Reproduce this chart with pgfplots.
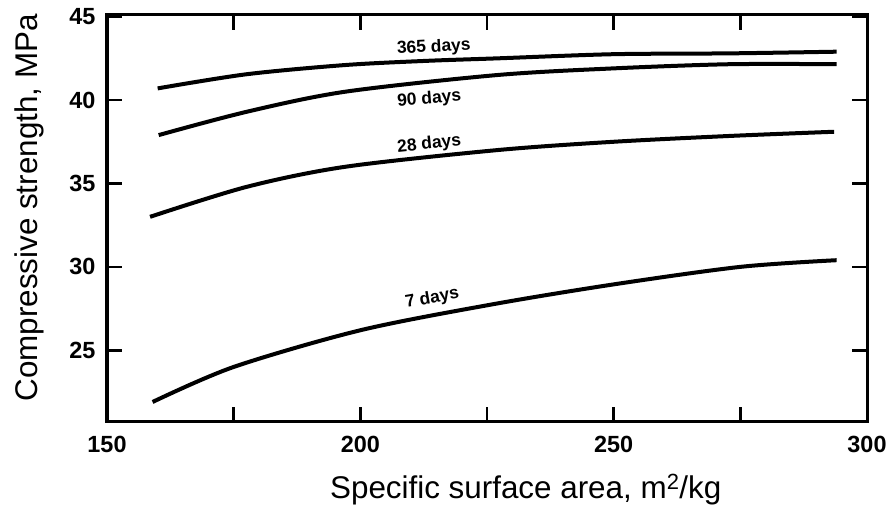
\documentclass[border=0pt]{standalone}
\usepackage{fontspec}
\setmainfont{Liberation Sans}
\usepackage{pgfplots}
\pgfplotsset{compat=1.18}
\begin{document}
\begin{tikzpicture}
\useasboundingbox (0,0) rectangle (888bp,519bp);
\begin{axis}[
  at={(107bp,97bp)}, anchor=south west,
  scale only axis, width=760bp, height=407bp,
  xmin=150, xmax=300, ymin=20.7, ymax=45.1,
  axis line style={line width=3bp},
  xtick={150,175,200,225,250,275,300},
  xticklabels={150,,200,,250,,300},
  ytick={25,30,35,40,45},
  major tick length=15bp,
  tick style={line width=2.6bp, black},
  /pgf/number format/assume math mode=true,
  ticklabel style={font=\fontsize{23.5}{26}\selectfont\bfseries},
  xticklabel style={yshift=-11bp},
  yticklabel style={xshift=-8bp},
  xlabel={Specific surface area, m\textsuperscript{2}/kg},
  ylabel={Compressive strength, MPa},
  label style={font=\fontsize{31.5}{34}\selectfont},
  xlabel style={at={(axis description cs:0.551,-0.167)}, anchor=center},
  ylabel style={at={(axis description cs:-0.102,0.526)}, anchor=center},
  clip=false,
]
\addplot[black, line width=4bp, smooth, tension=0.5] coordinates {
(160,40.7) (177.6,41.55) (197,42.1) (213,42.35) (227,42.5) (250,42.75) (273,42.8) (294,42.9)};
\addplot[black, line width=4bp, smooth, tension=0.5] coordinates {
(160.2,37.9) (177.6,39.3) (197,40.5) (227,41.5) (250,41.9) (273,42.15) (294,42.15)};
\addplot[black, line width=4bp, smooth, tension=0.5] coordinates {
(158.5,33.0) (177.6,34.8) (197,36.0) (227,37.0) (250,37.5) (273,37.85) (293.5,38.1)};
\addplot[black, line width=4bp, smooth, tension=0.5] coordinates {
(159,21.9) (175,24.0) (200,26.2) (226,27.75) (250,28.95) (275,30.0) (294,30.4)};
\begin{scope}[every node/.style={font=\fontsize{17.5}{20}\selectfont\bfseries}]
\node[rotate=3] at (axis cs:214.5,43.15) {365 days};
\node[rotate=5] at (axis cs:213.6,40.05) {90 days};
\node[rotate=6] at (axis cs:213.6,37.35) {28 days};
\node[rotate=10] at (axis cs:214.2,28.1) {7 days};
\end{scope}
\end{axis}
\end{tikzpicture}
\end{document}
